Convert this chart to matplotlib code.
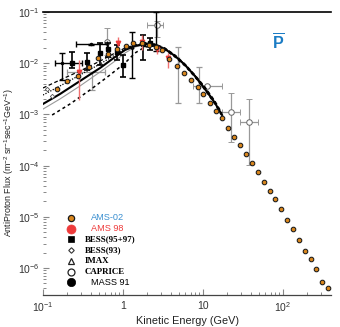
import matplotlib
matplotlib.use("Agg")
import matplotlib.pyplot as plt
from matplotlib.ticker import FixedLocator, FixedFormatter, LogLocator, NullFormatter

plt.rcParams['font.family'] = ['Liberation Sans', 'DejaVu Sans']
plt.rcParams['mathtext.fontset'] = 'custom'
plt.rcParams['mathtext.rm'] = 'Liberation Sans'
plt.rcParams['mathtext.bf'] = 'Liberation Sans:bold'

# ---------------- data ----------------
ams02_E = [0.148, 0.201, 0.276, 0.376, 0.491, 0.644, 0.834, 1.08, 1.35, 1.73, 2.13, 2.56,
           3.10, 3.76, 4.77, 5.84, 7.08, 8.54, 10.1, 12.2, 14.5, 17.3, 20.7, 24.4, 29.0,
           34.5, 40.6, 48.3, 57.4, 67.8, 80.1, 95.2, 113, 134, 157, 188, 221, 261, 307, 362]
ams02_F = [3.09e-3, 4.49e-3, 5.62e-3, 8.55e-3, 1.25e-2, 1.53e-2, 1.87e-2, 2.20e-2, 2.45e-2,
           2.48e-2, 2.27e-2, 2.10e-2, 1.81e-2, 1.21e-2, 8.82e-3, 6.52e-3, 4.70e-3, 3.48e-3,
           2.50e-3, 1.69e-3, 1.18e-3, 8.51e-4, 5.50e-4, 3.67e-4, 2.52e-4, 1.69e-4, 1.12e-4,
           7.60e-5, 4.89e-5, 3.16e-5, 2.23e-5, 1.41e-5, 8.55e-6, 5.73e-6, 3.52e-6, 2.18e-6,
           1.52e-6, 9.55e-7, 5.45e-7, 4.16e-7]

ams98_E = [0.282, 0.873, 1.74, 2.68, 3.68]
ams98_F = [6.8e-3, 2.45e-2, 2.63e-2, 1.87e-2, 1.25e-2]
ams98_lo = [1.9e-3, 1.98e-2, 1.81e-2, 1.51e-2, 8.1e-3]
ams98_hi = [1.15e-2, 3.24e-2, 3.55e-2, 2.27e-2, 1.58e-2]

bess9597_E = [0.230, 0.355, 0.516, 0.649, 0.841, 1.0, 1.78, 2.17]
bess9597_F = [1.01e-2, 1.05e-2, 1.58e-2, 1.89e-2, 1.66e-2, 9.23e-3, 2.37e-2, 2.48e-2]
bess9597_lo = [8.05e-3, 7.36e-3, 9.23e-3, 1.32e-2, 1.15e-2, 5.37e-3, 1.15e-2, 1.81e-2]
bess9597_hi = [1.66e-2, 1.58e-2, 2.48e-2, 2.48e-2, 2.27e-2, 1.45e-2, 3.55e-2, 3.10e-2]

bess93_E = [0.112, 0.130]
bess93_F = [3.13e-3, 2.29e-3]

imax_E = [1.30, 2.56]
imax_F = [2.07e-2, 2.27e-2]
imax_lo = [5.14e-3, 1.7e-2]
imax_hi = [4.07e-2, 1.0e-1]

caprice_E = [0.631, 2.64, 11.1, 22.2, 37.6]
caprice_F = [2.59e-2, 5.57e-2, 3.59e-3, 1.11e-3, 7.11e-4]
caprice_lo = [1.45e-2, 3.30e-2, 3.5e-3, 2.93e-4, 1.03e-4]
caprice_hi = [4.87e-2, 6.67e-2, 3.7e-3, 2.58e-3, 1.97e-3]
caprice_Elo = [0.62, 1.98, 7.56, 17.1, 29.0]
caprice_Ehi = [0.64, 3.19, 17.4, 29.0, 49.1]

mass91_E = [0.173, 0.398]
mass91_F = [1.01e-2, 2.34e-2]
mass91_lo = [4.70e-3, 2.30e-2]
mass91_hi = [1.58e-2, 2.38e-2]
mass91_Elo = [0.141, 0.256]
mass91_Ehi = [0.308, 0.626]

gray_E = [0.41, 4.87, 8.91]
gray_F = [6.73e-3, 1.15e-2, 3.75e-3]
gray_lo = [3.00e-3, 1.65e-3, 1.65e-3]
gray_hi = [6.8e-3, 2.10e-2, 8.55e-3]
gray_Elo = [0.198, 4.80, 8.80]
gray_Ehi = [0.596, 4.95, 9.00]

curve_E = [0.10, 0.163, 0.29, 0.516, 0.794, 1.06, 1.41, 1.88, 2.51, 3.35, 4.47, 5.96,
           7.94, 10.6, 14.1, 17.3]
solid_F = [1.60e-3, 2.50e-3, 4.49e-3, 8.05e-3, 1.32e-2, 1.81e-2, 2.17e-2, 2.37e-2, 2.27e-2,
           1.89e-2, 1.38e-2, 9.23e-3, 5.62e-3, 3.13e-3, 1.67e-3, 9.73e-4]
updash_F = [3.28e-3, 4.70e-3, 7.05e-3, 1.10e-2, 1.58e-2, 1.98e-2, 2.27e-2, 2.48e-2, 2.37e-2,
            1.98e-2, 1.45e-2, 9.64e-3, 5.89e-3, 3.43e-3, 1.83e-3, 1.06e-3]
dotted_E = [0.10, 0.163, 0.29, 0.516, 0.794, 1.06, 1.41, 1.88, 2.51, 3.35, 4.47, 5.96,
            7.94, 10.6, 14.1]
dotted_F = [2.39e-3, 3.59e-3, 5.89e-3, 9.64e-3, 1.45e-2, 1.89e-2, 2.22e-2, 2.43e-2, 2.32e-2,
            1.94e-2, 1.41e-2, 9.43e-3, 5.75e-3, 3.28e-3, 1.75e-3]
gray_curve_E = [0.10, 0.163, 0.29, 0.516, 0.794, 1.06, 1.41, 1.88, 2.51, 3.35, 4.47, 5.96,
                7.94, 10.6, 12.95]
gray_curve_F = [1.27e-3, 2.00e-3, 3.59e-3, 6.73e-3, 1.10e-2, 1.58e-2, 2.07e-2, 2.32e-2,
                2.27e-2, 1.89e-2, 1.38e-2, 9.23e-3, 5.37e-3, 3.00e-3, 2.00e-3]
lowdash_E = [0.13, 0.218, 0.387, 0.688, 1.06, 1.41, 1.88, 2.51, 3.35, 4.47, 5.96, 7.94,
             10.6, 14.1, 17.3]
lowdash_F = [9.73e-4, 1.60e-3, 3.00e-3, 5.89e-3, 1.01e-2, 1.58e-2, 2.07e-2, 2.17e-2,
             1.81e-2, 1.32e-2, 8.82e-3, 5.37e-3, 3.00e-3, 1.60e-3, 9.30e-4]

xtick_vals = [0.1, 1, 10, 100]
xtick_labels = [r'$10^{-1}$', '1', '10', r'$10^{2}$']
ytick_vals = [1e-1, 1e-2, 1e-3, 1e-4, 1e-5, 1e-6]
ytick_labels = [r'$10^{-1}$', r'$10^{-2}$', r'$10^{-3}$', r'$10^{-4}$', r'$10^{-5}$', r'$10^{-6}$']

legend_labels = ['AMS-02', 'AMS 98', 'BESS(95+97)', 'BESS(93)', 'IMAX', 'CAPRICE', 'MASS 91']

# ---------------- figure ----------------
fig = plt.figure(figsize=(3.4, 3.27), dpi=100)
ax = fig.add_axes([43/340, 32/327, 288/340, 283/327])
ax.set_xscale('log')
ax.set_yscale('log')
ax.set_xlim(0.1, 398)
ax.set_ylim(2.97e-7, 0.1)


def yerr(F, lo, hi):
    return [[f - l for f, l in zip(F, lo)], [h - f for f, h in zip(F, hi)]]


def xerr(E, lo, hi):
    return [[e - l for e, l in zip(E, lo)], [h - e for e, h in zip(E, hi)]]

# curves
ax.plot(gray_curve_E, gray_curve_F, color='#999999', lw=0.8, zorder=3)
ax.plot(lowdash_E, lowdash_F, color='black', lw=1.1, dashes=(2, 2), zorder=3)
ax.plot(dotted_E, dotted_F, color='black', lw=0.9, dashes=(1, 1.2), zorder=3)
ax.plot(curve_E, updash_F, color='black', lw=0.9, dashes=(3, 2), zorder=3)
ax.plot(curve_E, solid_F, color='black', lw=1.5, zorder=3)

# gray error bars
ax.errorbar(gray_E, gray_F, yerr=yerr(gray_F, gray_lo, gray_hi),
            xerr=xerr(gray_E, gray_Elo, gray_Ehi), fmt='none', ecolor='#999999',
            elinewidth=0.9, capsize=2, capthick=0.9, zorder=2)
ax.errorbar(caprice_E, caprice_F, yerr=yerr(caprice_F, caprice_lo, caprice_hi),
            xerr=xerr(caprice_E, caprice_Elo, caprice_Ehi), fmt='o', ms=4,
            mfc='white', mec='#666666', mew=0.7, ecolor='#999999',
            elinewidth=0.9, capsize=2, capthick=0.9, zorder=2)

# black error bars
ax.errorbar(mass91_E, mass91_F, yerr=yerr(mass91_F, mass91_lo, mass91_hi),
            xerr=xerr(mass91_E, mass91_Elo, mass91_Ehi), fmt='o', ms=1.5,
            color='black', elinewidth=1.0, capsize=2, capthick=1.0, zorder=4)
ax.errorbar(imax_E, imax_F, yerr=yerr(imax_F, imax_lo, imax_hi), fmt='^', ms=2,
            mfc='white', mec='black', ecolor='black', elinewidth=1.0, capsize=2,
            capthick=1.0, zorder=4)
ax.errorbar(bess9597_E, bess9597_F, yerr=yerr(bess9597_F, bess9597_lo, bess9597_hi),
            fmt='s', ms=2.5, color='black', elinewidth=1.2, capsize=2.2, capthick=1.2, zorder=4)
ax.plot(bess93_E, bess93_F, 'D', ms=2.2, mfc='white', mec='#555555', mew=0.6, zorder=4)

# AMS 98
ax.errorbar(ams98_E, ams98_F, yerr=yerr(ams98_F, ams98_lo, ams98_hi), fmt='v', ms=3.2,
            color='#ee3b3b', ecolor='#f07070', elinewidth=1.0, capsize=0, zorder=5)

# AMS-02
ax.plot(ams02_E, ams02_F, 'o', ms=3.3, mfc='#d9861c', mec='#1a1a1a', mew=0.75,
        zorder=6, clip_on=False)

# top line
ax.axhline(0.1, color='black', lw=1.2, clip_on=False, zorder=7)

# axes styling
for s in ['left', 'right', 'top']:
    ax.spines[s].set_visible(False)
ax.spines['bottom'].set_color('#444444')
ax.spines['bottom'].set_linewidth(0.9)

ax.xaxis.set_major_locator(FixedLocator(xtick_vals))
ax.xaxis.set_major_formatter(FixedFormatter(xtick_labels))
ax.xaxis.set_minor_locator(LogLocator(base=10, subs=range(2, 10), numticks=20))
ax.xaxis.set_minor_formatter(NullFormatter())
ax.yaxis.set_major_locator(FixedLocator(ytick_vals))
ax.yaxis.set_major_formatter(FixedFormatter(ytick_labels))
ax.yaxis.set_minor_locator(LogLocator(base=10, subs=range(2, 10), numticks=20))
ax.yaxis.set_minor_formatter(NullFormatter())

ax.tick_params(axis='both', which='both', direction='in', colors='#888888',
               labelcolor='#333333', labelsize=7.5)
ax.tick_params(axis='both', which='major', length=4, width=0.8, pad=4)
ax.tick_params(axis='y', which='major', pad=2.5)
ax.tick_params(axis='both', which='minor', length=2.5, width=0.7)

ax.set_xlabel('Kinetic Energy (GeV)', fontsize=7.8, color='#222222', labelpad=1)
ax.set_ylabel(r'AntiProton Flux (m$^{-2}$ sr$^{-1}$sec$^{-1}$GeV$^{-1}$)', fontsize=6.4,
              color='#222222')
ax.yaxis.set_label_coords(-0.094, 0.47)

# P-bar label
ax.text(0.818, 0.89, r'$\overline{\mathbf{P}}$', transform=ax.transAxes, fontsize=11.5,
        color='#1b7cc4', ha='center', va='center')

# manual legend
mx = (71 - 43) / 288
rows = [(295 - (218 + i * 10.7)) / 283 for i in range(7)]
styles = [
    dict(marker='o', ms=4.5, mfc='#d9861c', mec='#1a1a1a', mew=0.9),
    dict(marker='o', ms=6.5, mfc='#ee3b3b', mec='#ee3b3b', mew=0.5),
    dict(marker='s', ms=4.2, mfc='black', mec='black', mew=0.5),
    dict(marker='D', ms=2.8, mfc='white', mec='#333333', mew=0.8),
    dict(marker='^', ms=4.5, mfc='white', mec='#222222', mew=0.9),
    dict(marker='o', ms=5.0, mfc='white', mec='#222222', mew=0.9),
    dict(marker='o', ms=6.0, mfc='black', mec='black', mew=0.5),
]
text_x = [(91 - 43) / 288, (91 - 43) / 288, (85 - 43) / 288, (85 - 43) / 288,
          (85 - 43) / 288, (85 - 43) / 288, (91 - 43) / 288]
text_col = ['#3a8fd0', '#ee3b3b', 'black', 'black', 'black', 'black', 'black']
text_font = ['Liberation Sans', 'Liberation Sans', 'Liberation Serif', 'Liberation Serif',
             'Liberation Serif', 'Liberation Serif', 'Liberation Sans']
text_w = ['normal', 'normal', 'bold', 'bold', 'bold', 'bold', 'normal']
text_fs = [6.6, 6.6, 6.4, 6.4, 6.4, 6.4, 6.6]
for i, lab in enumerate(legend_labels):
    ax.plot([mx], [rows[i]], transform=ax.transAxes, linestyle='none', clip_on=False,
            zorder=8, **styles[i])
    ax.text(text_x[i], rows[i], lab, transform=ax.transAxes, fontsize=text_fs[i],
            color=text_col[i], family=text_font[i], weight=text_w[i], va='center', ha='left')

fig.savefig('out.png', dpi=100)
